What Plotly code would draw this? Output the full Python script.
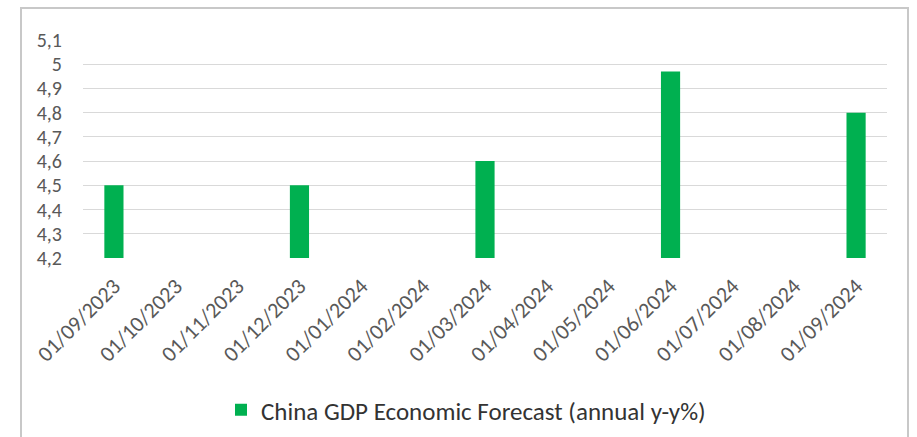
import plotly.graph_objects as go

# Monthly categories on the x axis
months = [
    "01/09/2023", "01/10/2023", "01/11/2023", "01/12/2023",
    "01/01/2024", "01/02/2024", "01/03/2024", "01/04/2024",
    "01/05/2024", "01/06/2024", "01/07/2024", "01/08/2024",
    "01/09/2024",
]
# Forecast values (annual y-y %), None where no release
gdp_forecast = [4.5, None, None, 4.5, None, None, 4.6, None, None, 4.97, None, None, 4.8]

y_ticks = [4.2, 4.3, 4.4, 4.5, 4.6, 4.7, 4.8, 4.9, 5.0, 5.1]
y_tick_text = ["4,2", "4,3", "4,4", "4,5", "4,6", "4,7", "4,8", "4,9", "5", "5,1"]

series_name = "China GDP Economic Forecast (annual y-y%)"

FONT = "Calibri, Carlito, Lato, 'Liberation Sans', sans-serif"
GREY = "#595959"

W, H = 917, 437
L, R, T, B = 83, 30, 40, 179
pw, ph = W - L - R, H - T - B


def px_to_paper_x(px):
    return (px - L) / pw


def px_to_paper_y(py):
    return (H - B - py) / ph


fig = go.Figure()
fig.add_trace(go.Bar(
    x=months,
    y=gdp_forecast,
    name=series_name,
    marker=dict(color="#00B050", line=dict(width=0)),
    showlegend=True,
))

fig.update_layout(
    width=W, height=H,
    margin=dict(l=L, r=R, t=T, b=B),
    paper_bgcolor="white",
    plot_bgcolor="white",
    bargap=0.69,
    separators=", ",
    font=dict(family=FONT, size=22, color=GREY),
    showlegend=True,
    legend=dict(
        orientation="h",
        xref="container", yref="container",
        x=466 / W, xanchor="center",
        y=1 - 410 / H, yanchor="middle",
        font=dict(family=FONT, size=25, color="#333333"),
        itemwidth=30,
    ),
    xaxis=dict(
        type="category",
        categoryorder="array",
        categoryarray=months,
        tickangle=-45,
        showgrid=False,
        showline=False,
        ticks="",
        automargin=False,
        ticklabelstandoff=10,
        tickfont=dict(family=FONT, size=22, color=GREY),
    ),
    yaxis=dict(
        range=[4.2, 5.1],
        tickvals=y_ticks,
        ticktext=y_tick_text,
        showgrid=True,
        gridcolor="#D9D9D9",
        gridwidth=1.3,
        zeroline=False,
        showline=False,
        ticks="",
        automargin=False,
        ticklabelstandoff=20,
        tickfont=dict(family=FONT, size=20, color=GREY),
    ),
    shapes=[dict(
        type="rect", xref="paper", yref="paper",
        x0=px_to_paper_x(21), x1=px_to_paper_x(908),
        y0=px_to_paper_y(445), y1=px_to_paper_y(8),
        line=dict(color="#C8C8C8", width=2),
        fillcolor="rgba(0,0,0,0)",
        layer="below",
    )],
)

fig.write_html("out.html")
